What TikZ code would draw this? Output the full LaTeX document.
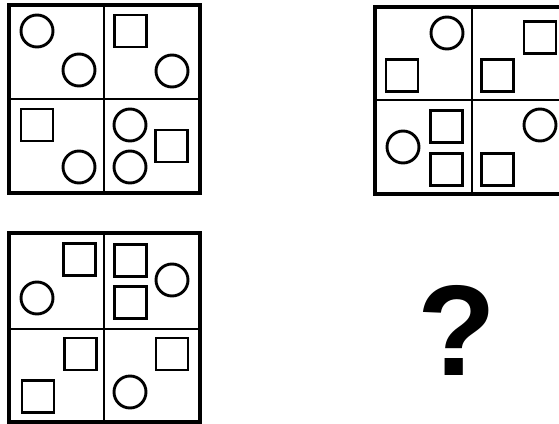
\documentclass[tikz,border=0pt]{standalone}
\usepackage{fontspec}
\setmainfont{Liberation Sans}
\usepackage{tikz}

\begin{document}
\begin{tikzpicture}[
    x=1pt, y=-1pt,
    frame/.style={draw=black, line width=3.2pt},
    divider/.style={draw=black, line width=2.5pt},
    ring/.style={circle, draw=black, line width=2.9pt, minimum size=32pt, inner sep=0pt},
    sq/.style={rectangle, draw=black, line width=2.9pt, minimum size=32pt, inner sep=0pt},
    qmark/.style={inner sep=0pt, font=\fontsize{129}{129}\selectfont\bfseries}
]
\clip (0,0) rectangle (559,423);
\fill[white] (0,0) rectangle (559,423);

% Panel A (top left)
\draw[frame] (9,5) rectangle (200,193);
\draw[divider] (104,5) -- (104,193);
\draw[divider] (9,99) -- (200,99);
\node[ring] (a1) at (37,31) {};
\node[ring] (a2) at (79,70) {};
\node[sq] (a3) at (130.5,31) {};
\node[ring] (a4) at (172,71) {};
\node[sq] (a5) at (37,125) {};
\node[ring] (a6) at (79,167) {};
\node[ring] (a7) at (130,125) {};
\node[ring] (a8) at (130,167) {};
\node[sq] (a9) at (171.5,146) {};

% Panel B (top right)
\draw[frame] (375,7) rectangle (566,194);
\draw[divider] (472,7) -- (472,194);
\draw[divider] (375,100) -- (566,100);
\node[ring] (b1) at (447,33) {};
\node[sq] (b2) at (402,75.5) {};
\node[sq] (b3) at (540,37.5) {};
\node[sq] (b4) at (497.5,75.5) {};
\node[ring] (b5) at (403,147) {};
\node[sq] (b6) at (446.5,126.5) {};
\node[sq] (b7) at (446.5,169.5) {};
\node[ring] (b8) at (540,125) {};
\node[sq] (b9) at (497.5,169.5) {};

% Panel C (bottom left)
\draw[frame] (9,233) rectangle (200,422);
\draw[divider] (104,233) -- (104,422);
\draw[divider] (9,329) -- (200,329);
\node[sq] (c1) at (79.5,259.5) {};
\node[ring] (c2) at (37,298) {};
\node[sq] (c3) at (130.5,260.5) {};
\node[sq] (c4) at (130.5,302.5) {};
\node[ring] (c5) at (172,280) {};
\node[sq] (c6) at (80.5,354) {};
\node[sq] (c7) at (38,396.5) {};
\node[sq] (c8) at (172,354) {};
\node[ring] (c9) at (130,392) {};

% Missing panel
\node[qmark] (query) at (457,330) {?};

\end{tikzpicture}
\end{document}
